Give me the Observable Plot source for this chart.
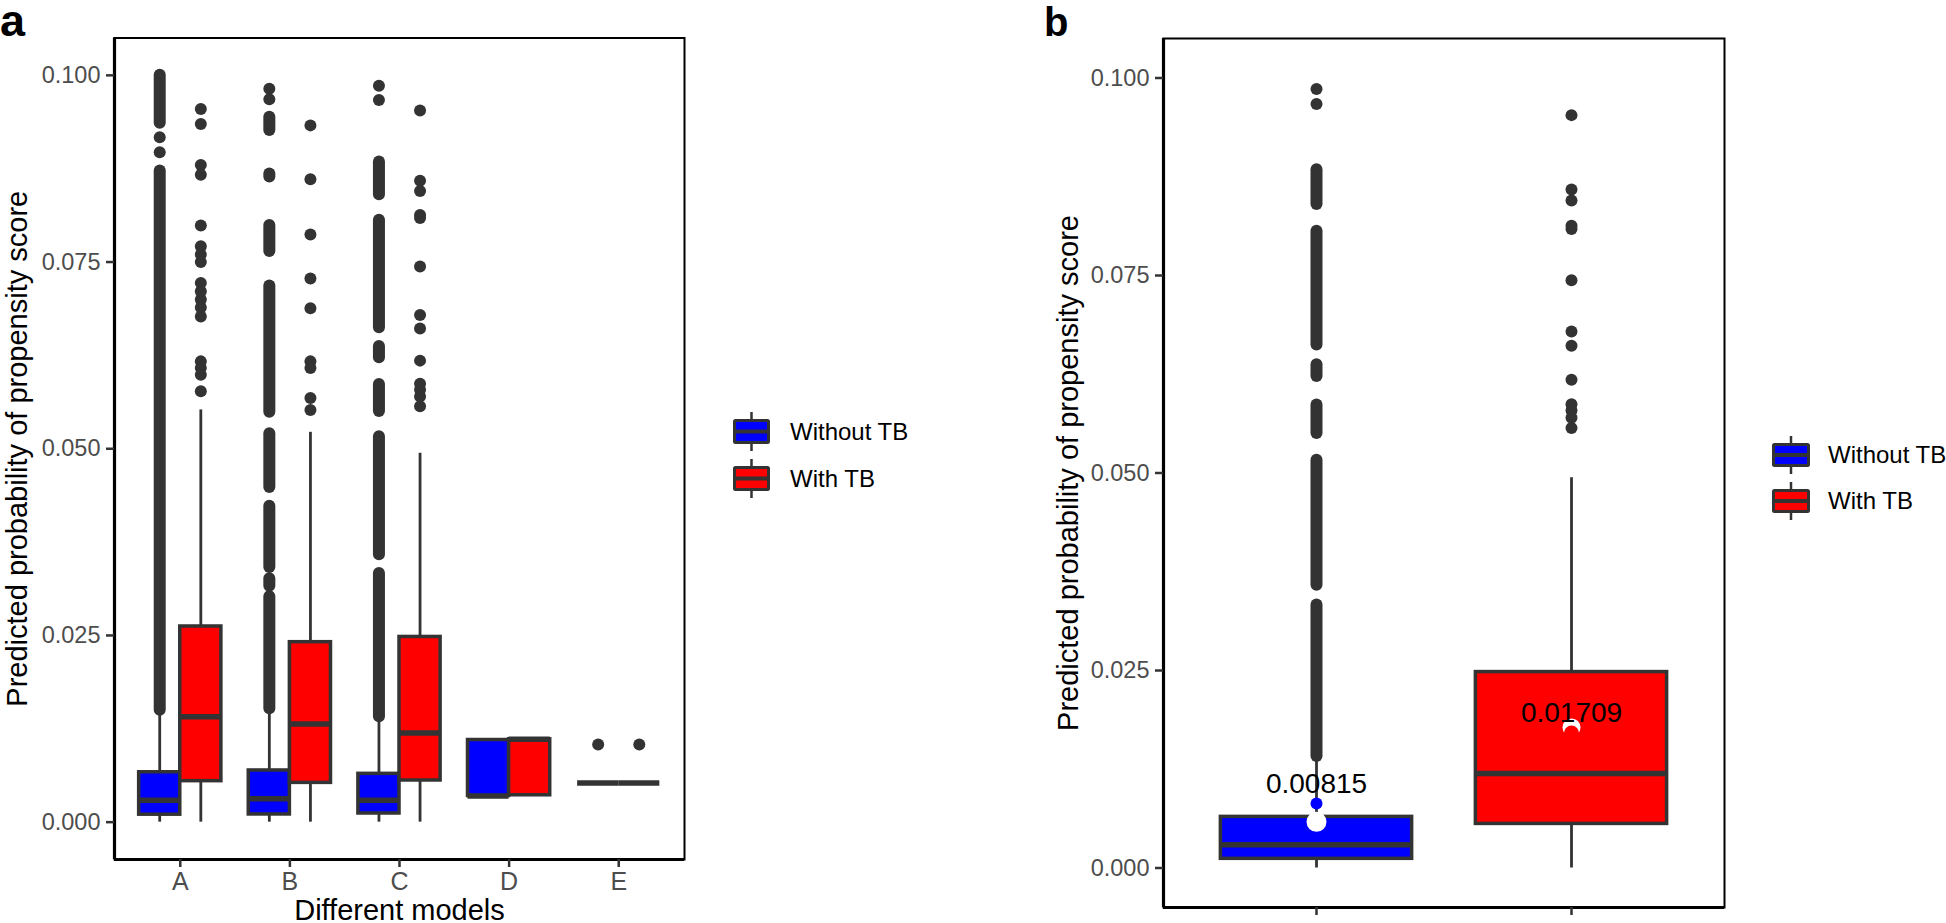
<!DOCTYPE html>
<html><head><meta charset="utf-8">
<script src="https://cdn.jsdelivr.net/npm/d3@7"></script>
<script src="https://cdn.jsdelivr.net/npm/@observablehq/plot@0.6"></script>
<style>
html,body{margin:0;padding:0;background:#fff;}
#root{position:relative;width:1946px;height:923px;overflow:hidden;font-family:"Liberation Sans",Arial,Helvetica,sans-serif;}
#pa,#pb,#overlay{position:absolute;top:0;}
#pa{left:0;} #pb{left:1000px;} #overlay{left:0;pointer-events:none;}
</style></head><body>
<div id="root"><div id="pa"></div><div id="pb"></div><svg id="overlay" width="1946" height="923"></svg></div>
<script>
// ---------------- data ----------------
const models = ["A", "B", "C", "D", "E"];
const groups = ["Without TB", "With TB"];
const groupColors = ["#0000ff", "#ff0000"];
const yTicks = [0, 0.025, 0.05, 0.075, 0.1];
const yTitle = "Predicted probability of propensity score";
const xTitle = "Different models";

// box statistics, Without TB (per model A..E)
const withoutLo  = [0, 0, 0, 0.0035, 0.00526];
const withoutQ1  = [0.00100, 0.00103, 0.00116, 0.0035, 0.00526];
const withoutMed = [0.00295, 0.00312, 0.00295, 0.0035, 0.00526];
const withoutQ3  = [0.00668, 0.00692, 0.00647, 0.0110, 0.00526];
const withoutHi  = [0.0146, 0.0148, 0.0136, 0.0110, 0.00526];
// box statistics, With TB
const withLo  = [0, 0, 0, 0.0036, 0.00526];
const withQ1  = [0.00549, 0.00526, 0.00558, 0.0036, 0.00526];
const withMed = [0.0141, 0.01316, 0.01195, 0.0111, 0.00526];
const withQ3  = [0.0262, 0.0241, 0.0248, 0.0111, 0.00526];
const withHi  = [0.0552, 0.0522, 0.0494, 0.0111, 0.00526];

// outliers: dense runs [from, to] and single points
const withoutRunsA = [[0.0150, 0.0872], [0.0936, 0.1000]];
const withoutDotsA = [0.0897, 0.0917];
const withoutRunsB = [[0.0152, 0.0302], [0.0316, 0.0326], [0.0341, 0.0423], [0.0448, 0.0520], [0.0549, 0.0718], [0.0764, 0.0799], [0.0864, 0.0868], [0.0926, 0.0944]];
const withoutDotsB = [0.0968, 0.0982];
const withoutRunsC = [[0.0141, 0.0333], [0.0358, 0.0516], [0.0550, 0.0586], [0.0622, 0.0637], [0.0662, 0.0806], [0.0840, 0.0884]];
const withoutDotsC = [0.0967, 0.0986];
const withoutDotsE = [0.0104];
const withDotsA = [0.0955, 0.0935, 0.0880, 0.0867, 0.0799, 0.0771, 0.0760, 0.0750, 0.0722, 0.0711, 0.0700, 0.0689, 0.0677, 0.0617, 0.0608, 0.0599, 0.0577];
const withDotsB = [0.0933, 0.0861, 0.0787, 0.0728, 0.0688, 0.0617, 0.0608, 0.0568, 0.0552];
const withDotsC = [0.0953, 0.0859, 0.0845, 0.0813, 0.0809, 0.0744, 0.0679, 0.0661, 0.0618, 0.0587, 0.0579, 0.0570, 0.0557];
const withDotsE = [0.0104];

// panel b: selected model, means and marker points
const panelBModel = "C";
const meansB = [0.00815, 0.01709];
const whiteMarksB = [0.00584, 0.0178];

// ---------------- tables ----------------
const statsByGroup = [
  {lo: withoutLo, q1: withoutQ1, med: withoutMed, q3: withoutQ3, hi: withoutHi},
  {lo: withLo, q1: withQ1, med: withMed, q3: withQ3, hi: withHi}
];
const runsByGroup = [
  {A: withoutRunsA, B: withoutRunsB, C: withoutRunsC, D: [], E: []},
  {A: [], B: [], C: [], D: [], E: []}
];
const dotsByGroup = [
  {A: withoutDotsA, B: withoutDotsB, C: withoutDotsC, D: [], E: withoutDotsE},
  {A: withDotsA, B: withDotsB, C: withDotsC, D: [], E: withDotsE}
];

function buildTables(modelList, posFn) {
  const boxes = [], runs = [], dots = [];
  modelList.forEach((m) => {
    const mi = models.indexOf(m);
    groups.forEach((g, gi) => {
      const s = statsByGroup[gi];
      const pos = posFn(modelList.indexOf(m), gi);
      boxes.push({model: m, group: g, pos, lo: s.lo[mi], q1: s.q1[mi], med: s.med[mi], q3: s.q3[mi], hi: s.hi[mi]});
      runsByGroup[gi][m].forEach(([a, b]) => runs.push({group: g, pos, lo: a, hi: b}));
      dotsByGroup[gi][m].forEach((v) => dots.push({group: g, pos, v}));
    });
  });
  return {boxes, runs, dots};
}

const FONT = '"Liberation Sans", Arial, Helvetica, sans-serif';
const DARK = "#333333";

function boxMarks(t, hw) {
  return [
    Plot.ruleX(t.boxes, {x: "pos", y1: "lo", y2: "q1", stroke: DARK, strokeWidth: 2.8}),
    Plot.ruleX(t.boxes, {x: "pos", y1: "q3", y2: "hi", stroke: DARK, strokeWidth: 2.8}),
    Plot.ruleX(t.runs, {x: "pos", y1: "lo", y2: "hi", stroke: DARK, strokeWidth: 12, strokeLinecap: "round"}),
    Plot.dot(t.dots, {x: "pos", y: "v", r: 6, fill: DARK}),
    Plot.rect(t.boxes, {x1: (d) => d.pos - hw, x2: (d) => d.pos + hw, y1: "q1", y2: "q3", fill: "group", stroke: DARK, strokeWidth: 3.5}),
    Plot.ruleY(t.boxes, {y: "med", x1: (d) => d.pos - hw, x2: (d) => d.pos + hw, stroke: DARK, strokeWidth: 5.5})
  ];
}

function yAxisMarks(dxTitle) {
  return [
    Plot.axisY({ticks: yTicks, tickFormat: d3.format(".3f"), tickSize: 8, tickPadding: 6, fontSize: 23.5, fill: "#4d4d4d", stroke: DARK, strokeWidth: 2.5, label: null}),
    Plot.text([yTitle], {text: (d) => d, frameAnchor: "left", textAnchor: "middle", lineAnchor: "middle", rotate: -90, dx: dxTitle, fontSize: 29, fill: "black"})
  ];
}

// ---------------- panel a ----------------
const dodge = 0.375;
const tA = buildTables(models, (i, gi) => i + 1 + (gi - 0.5) * dodge);
const xDomA = [0.4, models.length + 0.6];
const yDom = [-0.005, 0.105];

const plotA = Plot.plot({
  width: 700, height: 923,
  marginLeft: 114, marginRight: 16, marginTop: 37.5, marginBottom: 64,
  style: {fontFamily: FONT, background: "transparent", overflow: "visible"},
  x: {domain: xDomA},
  y: {domain: yDom},
  color: {domain: groups, range: groupColors},
  marks: [
    ...boxMarks(tA, dodge / 2),
    Plot.frame({stroke: "black", strokeWidth: 2}),
    Plot.ruleX([xDomA[0]], {stroke: "black", strokeWidth: 3.2}),
    Plot.ruleY([yDom[0]], {stroke: "black", strokeWidth: 3.2}),
    ...yAxisMarks(-97),
    Plot.axisX({ticks: models.map((m, i) => i + 1), tickFormat: (d) => models[d - 1], tickSize: 8, tickPadding: 5, fontSize: 25, fill: "#4d4d4d", stroke: DARK, strokeWidth: 2.5, label: null}),
    Plot.text([xTitle], {text: (d) => d, frameAnchor: "bottom", lineAnchor: "top", dy: 40, fontSize: 29, fill: "black"})
  ]
});
document.getElementById("pa").appendChild(plotA);

// ---------------- panel b ----------------
const tB = buildTables([panelBModel], (i, gi) => gi + 1);
const xDomB = [0.4, groups.length + 0.6];
const meanRows = groups.map((g, gi) => ({group: g, pos: gi + 1, mean: meansB[gi], white: whiteMarksB[gi]}));

const plotB = Plot.plot({
  width: 760, height: 923,
  marginLeft: 163, marginRight: 36, marginTop: 38, marginBottom: 16,
  style: {fontFamily: FONT, background: "transparent", overflow: "visible"},
  x: {domain: xDomB},
  y: {domain: yDom},
  color: {domain: groups, range: groupColors},
  marks: [
    ...boxMarks(tB, 0.375),
    Plot.dot(meanRows.slice(0, 1), {x: "pos", y: "white", r: 10, fill: "white"}),
    Plot.dot(meanRows.slice(1), {x: "pos", y: "white", r: 9, fill: "white"}),
    Plot.dot(meanRows.slice(0, 1), {x: "pos", y: "mean", r: 6, fill: "group"}),
    Plot.dot(meanRows.slice(1), {x: "pos", y: "mean", r: 7.5, fill: "group"}),
    Plot.text(meanRows, {x: "pos", y: "mean", text: (d) => d3.format(".5f")(d.mean), dy: -20, fontSize: 28, fill: "black"}),
    Plot.frame({stroke: "black", strokeWidth: 2}),
    Plot.ruleX([xDomB[0]], {stroke: "black", strokeWidth: 3.2}),
    Plot.ruleY([yDom[0]], {stroke: "black", strokeWidth: 3.2}),
    ...yAxisMarks(-95),
    Plot.axisX({ticks: groups.map((g, i) => i + 1), tickFormat: () => "", tickSize: 8, stroke: DARK, strokeWidth: 2.5, label: null})
  ]
});
document.getElementById("pb").appendChild(plotB);

// ---------------- legends & panel tags ----------------
const overlay = d3.select("#overlay");
function legend(x, y0, gap, w, h, textX) {
  const g = overlay.append("g");
  groups.forEach((name, i) => {
    const top = y0 + i * gap;
    const cx = x + w / 2;
    g.append("line").attr("x1", cx).attr("x2", cx).attr("y1", top - 7).attr("y2", top + h + 7).attr("stroke", DARK).attr("stroke-width", 2.5);
    g.append("rect").attr("x", x + 1.5).attr("y", top + 1.5).attr("width", w - 3).attr("height", h - 3)
      .attr("fill", groupColors[i]).attr("stroke", DARK).attr("stroke-width", 3).attr("rx", 1);
    g.append("line").attr("x1", x + 1.5).attr("x2", x + w - 1.5).attr("y1", top + h / 2).attr("y2", top + h / 2).attr("stroke", DARK).attr("stroke-width", 4);
    g.append("text").attr("x", textX).attr("y", top + h / 2).attr("dy", "0.35em")
      .attr("font-family", FONT).attr("font-size", 24).attr("fill", "black").text(name);
  });
}
legend(733, 419, 47, 37, 25, 790);
legend(1772, 443, 46, 38, 24, 1828);

overlay.append("text").attr("x", 0).attr("y", 36).attr("font-family", FONT).attr("font-weight", "bold").attr("font-size", 45).text("a");
overlay.append("text").attr("x", 1044).attr("y", 36).attr("font-family", FONT).attr("font-weight", "bold").attr("font-size", 40).text("b");
</script>
</body></html>
